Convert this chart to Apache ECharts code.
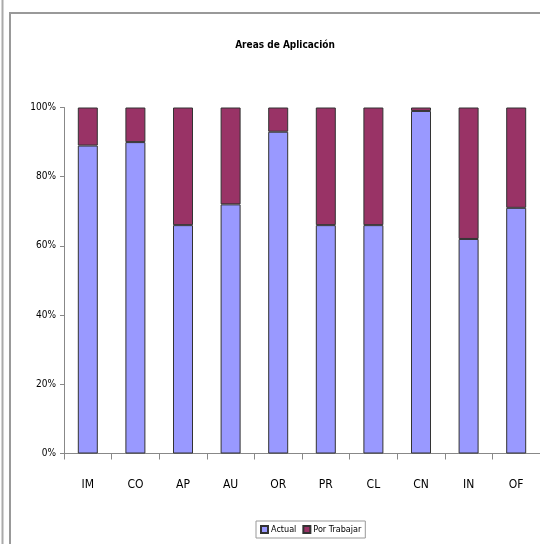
<!DOCTYPE html>
<html>
<head>
<meta charset="utf-8">
<script src="https://cdn.jsdelivr.net/npm/echarts@6/dist/echarts.min.js"></script>
<style>
html,body{margin:0;padding:0;background:#fff;}
#c{width:540px;height:544px;}
</style>
</head>
<body>
<div id="c"></div>
<script>
var categories = ['IM','CO','AP','AU','OR','PR','CL','CN','IN','OF'];
var actual = [89, 90, 66, 72, 93, 66, 66, 99, 62, 71];
var porTrabajar = [11, 10, 34, 28, 7, 34, 34, 1, 38, 29];
var yTicks = [0, 20, 40, 60, 80, 100];
var seriesNames = ['Actual', 'Por Trabajar'];

var FONT = '"Liberation Sans Narrow", "DejaVu Sans Condensed", sans-serif';
var chart = echarts.init(document.getElementById('c'), null, {renderer: 'canvas'});
chart.setOption({
  animation: false,
  backgroundColor: '#fff',
  title: {
    text: 'Areas de Aplicación',
    left: 280, top: 35, textAlign: 'center',
    textStyle: {fontFamily: FONT, fontSize: 10, fontWeight: 'bold', color: '#000'}
  },
  graphic: [
    {type: 'rect', shape: {x: 10, y: 13, width: 600, height: 600},
     style: {fill: 'none', stroke: '#999', lineWidth: 2}, silent: true, z: -1},
    {type: 'line', shape: {x1: 2.5, y1: 0, x2: 2.5, y2: 544},
     style: {stroke: '#aaa', lineWidth: 2}, silent: true}
  ],
  legend: {
    data: seriesNames,
    left: 256, top: 521,
    padding: [4, 4, 4, 4],
    borderColor: '#999', borderWidth: 1,
    itemWidth: 7, itemHeight: 7, itemGap: 6,
    icon: 'rect',
    textStyle: {fontFamily: FONT, fontSize: 9, color: '#000', padding: [0, 0, 0, -2]}
  },
  grid: {left: 64, top: 107.5, width: 478, height: 346, containLabel: false},
  xAxis: {
    type: 'category',
    data: categories,
    axisLine: {lineStyle: {color: '#888', width: 1}},
    axisTick: {show: true, length: 6, alignWithLabel: false, lineStyle: {color: '#888'}},
    axisLabel: {fontFamily: FONT, fontSize: 12, color: '#000', margin: 25, interval: 0}
  },
  yAxis: {
    type: 'value', min: 0, max: 100, interval: 20,
    axisLine: {show: true, lineStyle: {color: '#888', width: 1}},
    axisTick: {show: true, length: 4, lineStyle: {color: '#888'}},
    splitLine: {show: false},
    axisLabel: {fontFamily: FONT, fontSize: 10, color: '#000', margin: 8,
      formatter: function (v) { return yTicks.indexOf(v) >= 0 ? v + '%' : ''; }}
  },
  series: [
    {name: seriesNames[0], type: 'bar', stack: 'total', data: actual, barWidth: 20,
     itemStyle: {color: '#9999FF', borderColor: '#333', borderWidth: 1}},
    {name: seriesNames[1], type: 'bar', stack: 'total', data: porTrabajar, barWidth: 20,
     itemStyle: {color: '#993366', borderColor: '#333', borderWidth: 1}}
  ]
});
</script>
</body>
</html>
